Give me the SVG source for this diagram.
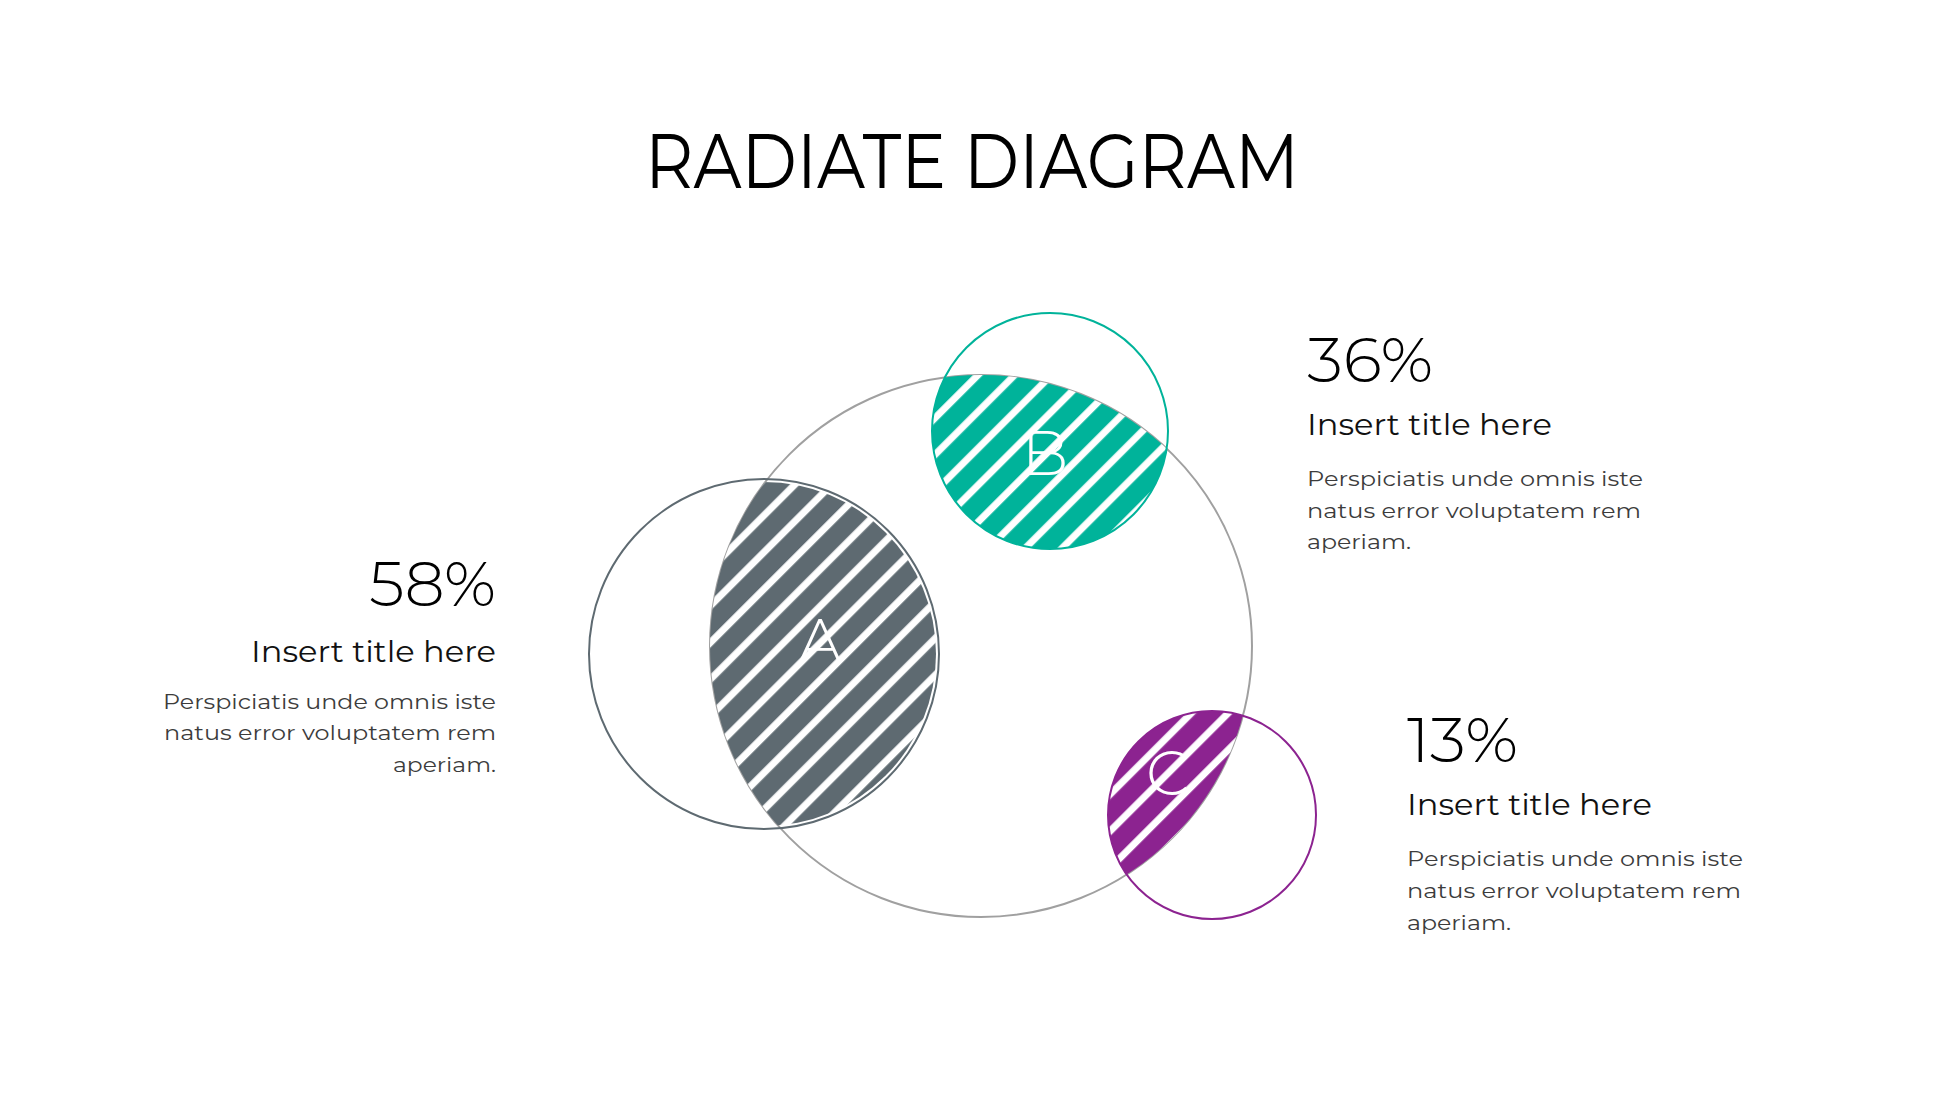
<svg xmlns="http://www.w3.org/2000/svg" width="1946" height="1095" viewBox="0 0 1946 1095">
  <style>
    .title { font-family: "Montserrat", "Open Sans", "Liberation Sans", sans-serif; font-size: 77px; font-weight: 400; fill: #000; }
    .pct { font-family: "Montserrat", "Open Sans", "Liberation Sans", sans-serif; font-size: 62px; font-weight: 300; fill: #000; }
    .sub { font-family: "Montserrat", "Open Sans", "Liberation Sans", sans-serif; font-size: 29px; font-weight: 400; fill: #111; }
    .body { font-family: "Montserrat", "Open Sans", "Liberation Sans", sans-serif; font-size: 21px; font-weight: 400; fill: #3c3c3c; }
    .letter { font-family: "Montserrat", "Open Sans", "Liberation Sans", sans-serif; font-size: 62px; font-weight: 300; fill: #fff; text-anchor: middle; }
    .ring { fill: none; stroke-width: 2; }
  </style>
  <defs>
    <clipPath id="clipBig">
      <circle cx="981" cy="646" r="271"/>
    </clipPath>
    <pattern id="patA" patternUnits="userSpaceOnUse" width="26" height="26" patternTransform="rotate(45)">
      <rect x="0" y="0" width="26" height="26" fill="#5e6a71"/>
      <rect x="17.2" y="0" width="7" height="26" fill="#fff"/>
    </pattern>
    <pattern id="patB" patternUnits="userSpaceOnUse" width="26" height="26" patternTransform="rotate(45)">
      <rect x="0" y="0" width="26" height="26" fill="#00b39a"/>
      <rect x="17.2" y="0" width="7" height="26" fill="#fff"/>
    </pattern>
    <pattern id="patC" patternUnits="userSpaceOnUse" width="26" height="26" patternTransform="rotate(45)">
      <rect x="0" y="0" width="26" height="26" fill="#8c2390"/>
      <rect x="17.2" y="0" width="7" height="26" fill="#fff"/>
    </pattern>
  </defs>

  <rect x="0" y="0" width="1946" height="1095" fill="#fff"/>

  <g id="title">
    <text class="title" x="645" y="188" textLength="654" lengthAdjust="spacingAndGlyphs">RADIATE DIAGRAM</text>
  </g>

  <g id="node-main">
    <circle class="ring" cx="981" cy="646" r="271" stroke="#a0a0a0"/>
  </g>

  <g id="node-A">
    <circle cx="764" cy="654" r="172" fill="url(#patA)" clip-path="url(#clipBig)"/>
    <circle class="ring" cx="764" cy="654" r="175" stroke="#5e6a71"/>
    <text class="letter" x="820" y="663">A</text>
  </g>

  <g id="node-B">
    <circle cx="1050" cy="431" r="118" fill="url(#patB)" clip-path="url(#clipBig)"/>
    <circle class="ring" cx="1050" cy="431" r="118" stroke="#00b39a"/>
    <text class="letter" x="1045" y="475">B</text>
  </g>

  <g id="node-C">
    <circle cx="1212" cy="815" r="104" fill="url(#patC)" clip-path="url(#clipBig)"/>
    <circle class="ring" cx="1212" cy="815" r="104" stroke="#8c2390"/>
    <text class="letter" x="1168" y="795">C</text>
  </g>

  <g id="label-A">
    <text class="pct" x="369" y="606" textLength="127" lengthAdjust="spacingAndGlyphs">58%</text>
    <text class="sub" x="251" y="662" textLength="245" lengthAdjust="spacingAndGlyphs">Insert title here</text>
    <text class="body" x="163" y="709" textLength="333" lengthAdjust="spacingAndGlyphs">Perspiciatis unde omnis iste</text>
    <text class="body" x="164" y="740" textLength="332" lengthAdjust="spacingAndGlyphs">natus error voluptatem rem</text>
    <text class="body" x="393" y="772" textLength="103" lengthAdjust="spacingAndGlyphs">aperiam.</text>
  </g>

  <g id="label-B">
    <text class="pct" x="1307" y="382" textLength="126" lengthAdjust="spacingAndGlyphs">36%</text>
    <text class="sub" x="1307" y="435" textLength="245" lengthAdjust="spacingAndGlyphs">Insert title here</text>
    <text class="body" x="1307" y="486" textLength="336" lengthAdjust="spacingAndGlyphs">Perspiciatis unde omnis iste</text>
    <text class="body" x="1307" y="518" textLength="334" lengthAdjust="spacingAndGlyphs">natus error voluptatem rem</text>
    <text class="body" x="1307" y="549" textLength="104" lengthAdjust="spacingAndGlyphs">aperiam.</text>
  </g>

  <g id="label-C">
    <text class="pct" x="1407" y="762" textLength="111" lengthAdjust="spacingAndGlyphs">13%</text>
    <text class="sub" x="1407" y="815" textLength="245" lengthAdjust="spacingAndGlyphs">Insert title here</text>
    <text class="body" x="1407" y="866" textLength="336" lengthAdjust="spacingAndGlyphs">Perspiciatis unde omnis iste</text>
    <text class="body" x="1407" y="898" textLength="334" lengthAdjust="spacingAndGlyphs">natus error voluptatem rem</text>
    <text class="body" x="1407" y="930" textLength="104" lengthAdjust="spacingAndGlyphs">aperiam.</text>
  </g>
</svg>
